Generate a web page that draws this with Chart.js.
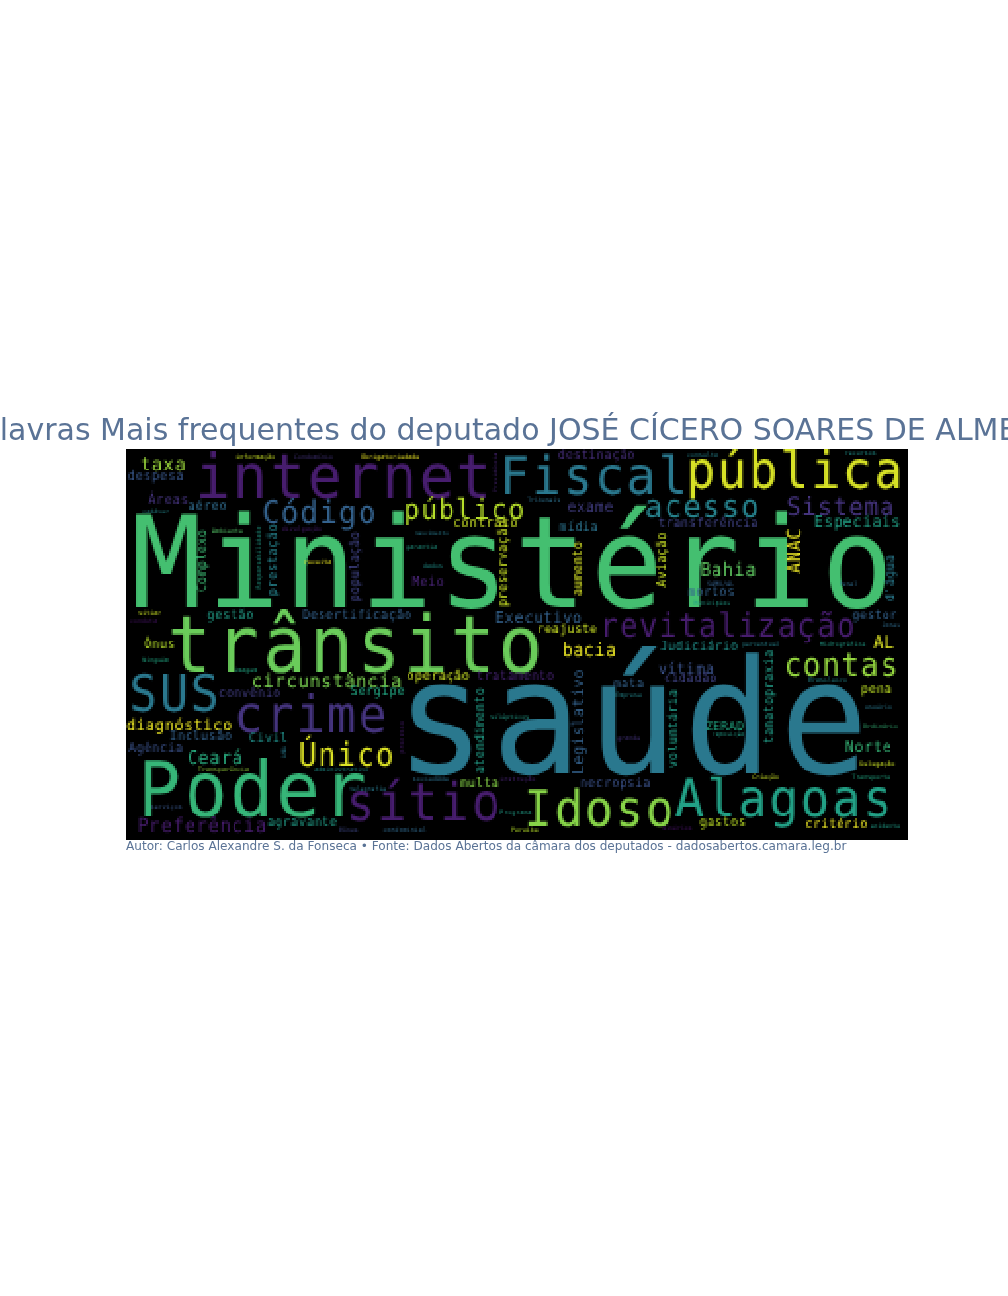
<!DOCTYPE html>
<html>
<head>
<meta charset="utf-8">
<title>Palavras mais frequentes</title>
<script src="https://cdn.jsdelivr.net/npm/chart.js@4/dist/chart.umd.min.js"></script>
<style>
	html, body { margin: 0; background: #fff; overflow: hidden; }
	canvas { display: block; }
</style>
</head>
<body>
<canvas id="cloud" width="1008" height="1296"></canvas>
<script>
const titleText = 'Palavras Mais frequentes do deputado JOSÉ CÍCERO SOARES DE ALMEIDA';
const captionText = 'Autor: Carlos Alexandre S. da Fonseca • Fonte: Dados Abertos da câmara dos deputados - dadosabertos.camara.leg.br';

// word cloud, one column per word across the arrays below
const words = [
	'Ministério', 'saúde', 'trânsito', 'Poder', 'internet', 'Fiscal', 'pública', 'Alagoas', 'Idoso', 'SUS',
	'crime', 'sítio', 'Único', 'revitalização', 'contas', 'Código', 'público', 'acesso', 'Sistema', 'circunstância',
	'Preferência', 'Bahia', 'Ceará', 'bacia', 'taxa', 'AL', 'diagnóstico', 'Especiais', 'Executivo', 'vítima',
	'Norte', 'exame', 'despesa', 'Áreas', 'aéreo', 'contrato', 'destinação', 'transferência', 'mídia', 'mortos',
	'Meio', 'gestão', 'Desertificação', 'gestor', 'reajuste', 'Ônus', 'Judiciário', 'cidadão', 'mata', 'pena',
	'ZERAD', 'necropsia', 'gastos', 'critério', 'multa', 'operação', 'tratamento', 'Sergipe', 'convênio', 'Inclusão',
	'Civil', 'Agência', 'agravante',
	'Complexo', 'prestação', 'população', 'preservação', 'ANAC', 'Aviação', 'aumento', "d'água", 'Legislativo', 'voluntária',
	'tanatopraxia', 'atendimento',
	'cadáver', 'informação', 'Condomínio', 'Obrigatoriedade', 'Ambiente', 'divulgação', 'nascimento', 'garantia', 'receita', 'dados',
	'sitiar', 'conduta', 'consulta', 'recursos', 'Tribunais', 'SAMU/AL', 'Municípios', 'Penal', 'Jonas', 'percentual',
	'Hidrográfica', 'Brasileiro', 'Empresa', 'usuário', 'Ordinário', 'reposição', 'grande', 'Delegação', 'Criação', 'Transporte',
	'acidente', 'minérios', 'Paraíba', 'Programa', 'instrução', 'sociedade', 'silépticos', 'imagem', 'Ninguém', 'Transparência',
	'administrativo', 'telegrafia', 'serviços', 'Bônus', 'condominial',
	'Responsabilidade', 'Previdência', 'ANA', 'processo'
];
const wordX = [
	2, 267, 40, 10, 68, 373, 559, 548, 397, 2,
	107, 219, 172, 473, 657, 135, 277, 518, 660, 125,
	11, 574, 61, 436, 14, 747, 0, 688, 369, 532,
	719, 441, 1, 22, 62, 327, 432, 532, 433, 562,
	286, 81, 176, 726, 411, 18, 534, 538, 487, 735,
	579, 454, 573, 679, 334, 281, 350, 224, 92, 43,
	123, 2, 141,
	81, 151, 233, 382, 674, 540, 455, 769, 458, 552,
	648, 357,
	16, 110, 168, 235, 86, 156, 289, 280, 178, 297,
	12, 4, 561, 719, 401, 581, 568, 713, 756, 616,
	694, 682, 489, 739, 737, 586, 491, 734, 626, 726,
	744, 536, 385, 374, 374, 287, 364, 108, 16, 72,
	188, 223, 25, 213, 257,
	135, 372, 160, 278
];
const wordY = [
	159, 325, 222, 368, 48, 45, 40, 368, 378, 263,
	283, 371, 316, 188, 226, 74, 71, 68, 66, 238,
	384, 127, 314, 208, 21, 199, 281, 79, 175, 224,
	303, 62, 32, 55, 61, 79, 9, 79, 83, 146,
	136, 170, 170, 171, 184, 200, 201, 232, 239, 244,
	282, 339, 378, 379, 339, 230, 230, 247, 249, 292,
	294, 303, 378,
	143, 147, 153, 158, 125, 138, 147, 153, 326, 319,
	295, 325,
	64, 9, 9, 9, 85, 83, 87, 100, 116, 120,
	167, 175, 7, 6, 52, 137, 156, 136, 178, 198,
	198, 232, 249, 261, 279, 288, 291, 316, 331, 331,
	379, 382, 384, 366, 332, 333, 270, 222, 213, 323,
	323, 343, 359, 383, 383,
	140, 43, 309, 304
];
const wordSize = [
	127.5, 159, 78.5, 77, 62, 52.5, 52, 52, 50.5, 51,
	51.5, 52, 32, 32.8, 32, 32, 29, 32, 25.8, 19.3,
	19.6, 18.7, 18.5, 18, 19, 18, 16, 16, 16, 15.5,
	15.5, 15.5, 13.5, 13.5, 13, 13.5, 12.8, 12.8, 13, 13,
	13.3, 13, 13, 12.5, 12.5, 13, 13, 12.5, 13, 13,
	13, 13, 13, 13, 13, 13, 13, 13, 13, 13,
	13, 13, 13,
	13, 13.3, 13, 13, 19, 13, 13, 13, 16, 13,
	13, 13,
	6.5, 6.5, 6.5, 6.5, 6.5, 6.5, 5.5, 6.5, 6.5, 6.5,
	6.5, 6.5, 6.5, 6.5, 6.2, 6.5, 6, 6.3, 6, 6.3,
	6.3, 6.5, 6.4, 6.4, 6.5, 6, 6.5, 6.5, 6.4, 6.4,
	6.3, 6.3, 6.4, 6.5, 6.5, 6.5, 6.5, 6.5, 6.4, 6.5,
	6.5, 6.2, 6.5, 6.3, 6.6,
	6.5, 6, 6.5, 6.5
];
const wordUp = [ 'Complexo', 'prestação', 'população', 'preservação', 'ANAC', 'Aviação', 'aumento', "d'água", 'Legislativo', 'voluntária', 'tanatopraxia', 'atendimento', 'Responsabilidade', 'Previdência', 'ANA', 'processo' ];
const wordShade = [
	0.7, 0.4, 0.77, 0.66, 0.08, 0.4, 0.94, 0.57, 0.82, 0.4,
	0.15, 0.08, 0.95, 0.08, 0.84, 0.31, 0.89, 0.44, 0.15, 0.8,
	0.08, 0.75, 0.62, 0.97, 0.85, 0.95, 0.97, 0.57, 0.31, 0.25,
	0.66, 0.18, 0.27, 0.15, 0.35, 0.92, 0.13, 0.2, 0.38, 0.31,
	0.1, 0.55, 0.31, 0.31, 0.92, 0.89, 0.5, 0.2, 0.31, 0.9,
	0.6, 0.25, 0.9, 0.97, 0.82, 0.92, 0.1, 0.6, 0.18, 0.31,
	0.5, 0.25, 0.55,
	0.68, 0.44, 0.2, 0.92, 0.97, 0.92, 0.94, 0.41, 0.31, 0.55,
	0.55, 0.55,
	0.46, 0.92, 0.15, 0.97, 0.73, 0.08, 0.41, 0.55, 0.97, 0.5,
	0.92, 0.05, 0.44, 0.5, 0.37, 0.31, 0.55, 0.35, 0.35, 0.44,
	0.55, 0.46, 0.46, 0.4, 0.66, 0.55, 0.15, 0.92, 0.92, 0.6,
	0.55, 0.05, 0.89, 0.55, 0.1, 0.37, 0.55, 0.6, 0.6, 0.85,
	0.5, 0.41, 0.27, 0.22, 0.34,
	0.55, 0.1, 0.41, 0.08
];

const viridis = [ '#440154', '#482475', '#414487', '#355f8d', '#2a788e', '#21918c', '#22a884', '#44bf70', '#7ad151', '#bddf26', '#fde725' ];

function shadeColor(v) {
	const pos = v * (viridis.length - 1);
	const i = Math.min(Math.floor(pos), viridis.length - 2);
	const t = pos - i;
	const a = parseInt(viridis[i].slice(1), 16);
	const b = parseInt(viridis[i + 1].slice(1), 16);
	const mix = (shift) => Math.round(((a >> shift) & 255) * (1 - t) + ((b >> shift) & 255) * t);
	return `rgb(${mix(16)},${mix(8)},${mix(0)})`;
}

// the cloud is a low resolution picture blown up, so draw small and scale without smoothing
const IMG_W = 782;
const IMG_H = 391;
const RASTER_W = 400;
// installed mono font has wider letters than the original one, same advance though
const GLYPH_SQUEEZE = 0.93;
const MONO_ADVANCE = 0.602;

const wordCloudPlugin = {
	id: 'wordCloud',
	afterDatasetsDraw(chart) {
		const area = chart.chartArea;
		const k = RASTER_W / area.width;
		const off = document.createElement('canvas');
		off.width = RASTER_W;
		off.height = Math.round(area.height * k);
		const o = off.getContext('2d');
		o.fillStyle = '#000';
		o.fillRect(0, 0, off.width, off.height);
		o.textBaseline = 'alphabetic';
		o.textAlign = 'left';
		o.textRendering = 'geometricPrecision';
		const unit = area.width / IMG_W;
		chart.getDatasetMeta(0).data.forEach((pt, i) => {
			const size = wordSize[i] * unit;
			const gap = size * MONO_ADVANCE * (1 / GLYPH_SQUEEZE - 1);
			o.save();
			o.setTransform(k, 0, 0, k, -area.left * k, -area.top * k);
			o.translate(pt.x, pt.y);
			if (wordUp.includes(words[i])) o.rotate(-Math.PI / 2);
			o.scale(GLYPH_SQUEEZE, 1);
			o.font = `${size}px "DejaVu Sans Mono"`;
			o.letterSpacing = `${gap}px`;
			o.fillStyle = shadeColor(wordShade[i]);
			o.fillText(words[i], gap / 2, 0);
			o.restore();
		});
		const ctx = chart.ctx;
		ctx.save();
		ctx.imageSmoothingEnabled = false;
		ctx.drawImage(off, area.left, area.top, area.width, area.height);
		ctx.restore();

		// the title runs past both edges of the window, the built in one would squeeze it
		ctx.save();
		ctx.fillStyle = '#5a7396';
		ctx.font = '30px "DejaVu Sans"';
		ctx.textAlign = 'center';
		ctx.textBaseline = 'alphabetic';
		ctx.fillText(titleText, (area.left + area.right) / 2, area.top - 9);
		ctx.restore();
	}
};

const points = words.map((w, i) => ({ x: wordX[i], y: wordY[i] }));

new Chart(document.querySelector('#cloud').getContext('2d'), {
	type: 'scatter',
	data: {
		datasets: [ { data: points, pointRadius: 0 } ]
	},
	options: {
		responsive: false,
		animation: false,
		layout: {
			padding: { left: 126, right: 100, top: 449, bottom: 441.6 }
		},
		scales: {
			x: { display: false, min: 0, max: IMG_W },
			y: { display: false, min: 0, max: IMG_H, reverse: true }
		},
		plugins: {
			legend: { display: false },
			tooltip: { enabled: false },
			title: { display: false },
			subtitle: {
				display: true,
				position: 'bottom',
				align: 'start',
				text: captionText,
				color: '#5a7396',
				font: { family: '"DejaVu Sans"', size: 12.1, weight: 'normal' },
				padding: { top: 0, bottom: 0 }
			}
		}
	},
	plugins: [ wordCloudPlugin ]
});
</script>
</body>
</html>
